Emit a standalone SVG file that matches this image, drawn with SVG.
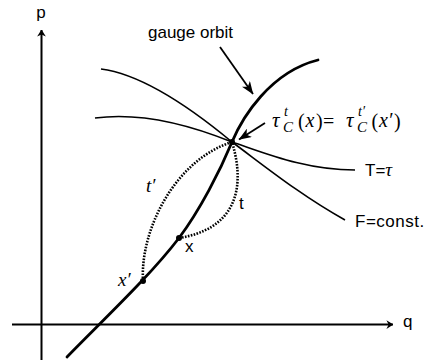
<svg xmlns="http://www.w3.org/2000/svg" width="430" height="360" viewBox="0 0 430 360">
<style>
.sans{font-family:"Liberation Sans","Helvetica","Arial",sans-serif;font-size:17px;fill:#000}
.math{font-family:"Liberation Serif","Times New Roman",serif;font-style:italic;fill:#000}
.rm{font-family:"Liberation Serif","Times New Roman",serif;font-style:normal;fill:#000}
.ax{stroke:#000;stroke-width:2;fill:none}
.thin{stroke:#000;stroke-width:1.6;fill:none}
.orbit{stroke:#000;stroke-width:2.8;fill:none;stroke-linecap:round}
.dot{stroke:#000;stroke-width:2.6;fill:none;stroke-dasharray:1.6 1.4}
</style>
<defs>
<marker id="axhead" viewBox="0 0 8 10" markerUnits="userSpaceOnUse" markerWidth="7" markerHeight="9" refX="7.5" refY="5" orient="auto">
<path d="M0,0 L8,5 L0,10 L2.5,5 z" fill="#000"/>
</marker>
<marker id="bighead" viewBox="0 0 13 10" markerUnits="userSpaceOnUse" markerWidth="13" markerHeight="10" refX="12.5" refY="5" orient="auto">
<path d="M0,0 L13,5 L0,10 L3.5,5 z" fill="#000"/>
</marker>
</defs>

<g id="axes">
<line class="ax" x1="41.5" y1="360" x2="41.5" y2="30" marker-end="url(#axhead)"/>
<line class="ax" x1="12" y1="324.5" x2="393" y2="324.5" marker-end="url(#axhead)"/>
<text class="sans" x="41" y="18" text-anchor="middle">p</text>
<text class="sans" x="403" y="327">q</text>
</g>

<g id="curves">
<path id="F-const" class="thin" d="M101,69 C140,74 185,103 232,142 C262,164 300,195 345,220"/>
<path id="T-tau" class="thin" d="M95,118 C140,112 190,125 232,142 C265,153 305,170 355,170"/>
<path id="gauge-orbit" class="orbit" d="M67,357 C105,318 150,276 179,238 C200,210 220,171 232,142 C242,118 270,72 318,60"/>
</g>

<g id="connectors">
<path class="dot" d="M143,281 C140,230 175,160 232,142"/>
<path class="dot" d="M179,238 C230,230 248,195 232,142"/>
<line x1="220" y1="47" x2="253" y2="94" stroke="#000" stroke-width="1.8" marker-end="url(#bighead)"/>
<line x1="265" y1="123" x2="239" y2="139.5" stroke="#000" stroke-width="1.8" marker-end="url(#bighead)"/>
</g>

<g id="points">
<circle cx="143" cy="281" r="3"/>
<circle cx="179" cy="238" r="3"/>
<circle cx="232" cy="142" r="3"/>
</g>

<g id="labels">
<text class="sans" x="148" y="38">gauge orbit</text>
<text class="sans" x="365" y="176">T=<tspan class="math" font-size="19">τ</tspan></text>
<text class="sans" x="355" y="227" letter-spacing="0.5">F=const.</text>
<text class="sans" x="239" y="209">t</text>
<text class="sans" x="185" y="252">x</text>
<text class="math" x="146" y="192" font-size="19">t′</text>
<text class="math" x="118" y="286" font-size="19">x′</text>
</g>

<g id="tau-label">
<text class="math" x="272" y="127" font-size="21">τ</text>
<text class="math" x="284" y="116" font-size="14">t</text>
<text class="math" x="283" y="131.5" font-size="15">C</text>
<text class="rm" x="298" y="128" font-size="20">(</text>
<text class="math" x="305.5" y="127" font-size="20">x</text>
<text class="rm" x="316" y="128" font-size="20">)</text>
<text class="rm" x="323" y="128" font-size="20">=</text>
<text class="math" x="346" y="127" font-size="21">τ</text>
<text class="math" x="358" y="116" font-size="14">t′</text>
<text class="math" x="357" y="131.5" font-size="15">C</text>
<text class="rm" x="371.5" y="128" font-size="20">(</text>
<text class="math" x="379" y="127" font-size="20">x′</text>
<text class="rm" x="394" y="128" font-size="20">)</text>
</g>
</svg>
